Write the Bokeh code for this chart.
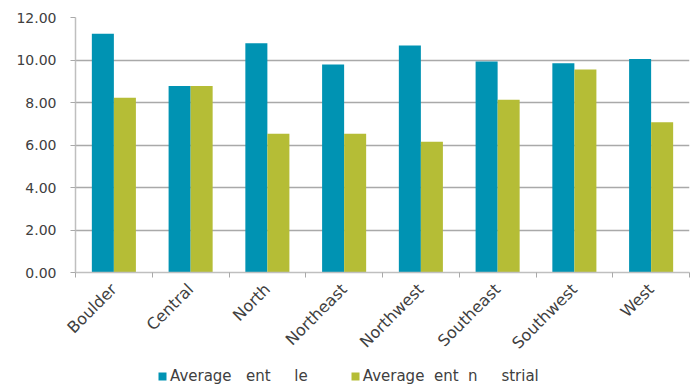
import math
from bokeh.plotting import figure
from bokeh.layouts import column
from bokeh.models import ColumnDataSource, FixedTicker, Legend, LegendItem, NumeralTickFormatter, Range1d
from bokeh.transform import dodge
from bokeh.embed import file_html
from bokeh.resources import INLINE

regions = ["Boulder", "Central", "North", "Northeast", "Northwest", "Southeast", "Southwest", "West"]
series1_label = "Average\u00a0\u00a0\u00a0ent\u00a0\u00a0\u00a0\u00a0\u00a0le"
series2_label = "Average\u00a0\u00a0ent\u00a0\u00a0n\u00a0\u00a0\u00a0\u00a0\u00a0strial"
series1 = [11.23, 8.78, 10.79, 9.79, 10.68, 9.93, 9.85, 10.05]
series2 = [8.22, 8.78, 6.53, 6.53, 6.15, 8.13, 9.55, 7.07]
y_ticks = [0, 2, 4, 6, 8, 10, 12]

TEAL = "#0093B3"
GREEN = "#B5BD36"
FONT = "DejaVu Sans"
TXT = "#404040"

centers = [i + 0.5 for i in range(len(regions))]
src = ColumnDataSource(dict(x=centers, a=series1, b=series2))

p = figure(width=694, height=362, output_backend="svg", toolbar_location=None,
           x_range=Range1d(0, len(regions)), y_range=Range1d(0, 12))
p.min_border_left = 75
p.min_border_right = 5
p.min_border_top = 17
p.min_border_bottom = 90
p.outline_line_color = None
p.background_fill_color = "white"

bw = 0.287
p.vbar(x=dodge("x", -bw / 2, range=p.x_range), top="a", width=bw, bottom=0, source=src,
       fill_color=TEAL, line_color=None)
p.vbar(x=dodge("x", bw / 2, range=p.x_range), top="b", width=bw, bottom=0, source=src,
       fill_color=GREEN, line_color=None)

# grid
p.xgrid.visible = False
p.ygrid.ticker = FixedTicker(ticks=y_ticks)
p.ygrid.grid_line_color = "#A9A9A9"
p.ygrid.grid_line_width = 1.5

# y axis
p.yaxis.ticker = FixedTicker(ticks=y_ticks)
p.yaxis.formatter = NumeralTickFormatter(format="0.00")
p.yaxis.axis_line_color = "#BFBFBF"
p.yaxis.axis_line_width = 1.5
p.yaxis.major_tick_line_color = "#A9A9A9"
p.yaxis.major_tick_out = 5
p.yaxis.major_tick_in = 0
p.yaxis.minor_tick_line_color = None
p.yaxis.major_label_standoff = 14
p.yaxis.major_label_text_font = FONT
p.yaxis.major_label_text_font_size = "14px"
p.yaxis.major_label_text_color = TXT

# x axis
p.xaxis.ticker = FixedTicker(ticks=centers, minor_ticks=list(range(len(regions) + 1)))
p.xaxis.major_label_overrides = {c: r for c, r in zip(centers, regions)}
p.xaxis.major_label_orientation = math.pi / 4
p.xaxis.major_tick_line_color = None
p.xaxis.minor_tick_line_color = "#A9A9A9"
p.xaxis.minor_tick_out = 5
p.xaxis.minor_tick_in = 0
p.xaxis.axis_line_color = "#BFBFBF"
p.xaxis.axis_line_width = 1.5
p.xaxis.major_label_standoff = 8
p.xaxis.major_label_text_font = FONT
p.xaxis.major_label_text_font_size = "16px"
p.xaxis.major_label_text_color = TXT

# legend strip below (its renderers sit outside the strip's visible range)
lf = figure(width=694, height=26, output_backend="svg", toolbar_location=None,
            x_axis_type=None, y_axis_type=None,
            x_range=Range1d(100, 101), y_range=Range1d(100, 101))
lf.min_border = 0
lf.grid.visible = False
lf.outline_line_color = None
l1 = lf.vbar(x="x", top="a", width=0.1, source=src, fill_color=TEAL, line_color=None)
l2 = lf.vbar(x="x", top="b", width=0.1, source=src, fill_color=GREEN, line_color=None)
legend = Legend(items=[LegendItem(label=series1_label, renderers=[l1]),
                       LegendItem(label=series2_label, renderers=[l2])],
                orientation="horizontal", location=(82, 3))
legend.label_text_font = FONT
legend.label_text_font_size = "15px"
legend.label_text_color = TXT
legend.glyph_width = 10
legend.glyph_height = 10
legend.label_standoff = 3
legend.spacing = 42
legend.border_line_color = None
legend.background_fill_alpha = 0
legend.padding = 0
legend.margin = 0
lf.add_layout(legend, "center")

open("out.html", "w").write(file_html(column(p, lf, spacing=0), INLINE))
